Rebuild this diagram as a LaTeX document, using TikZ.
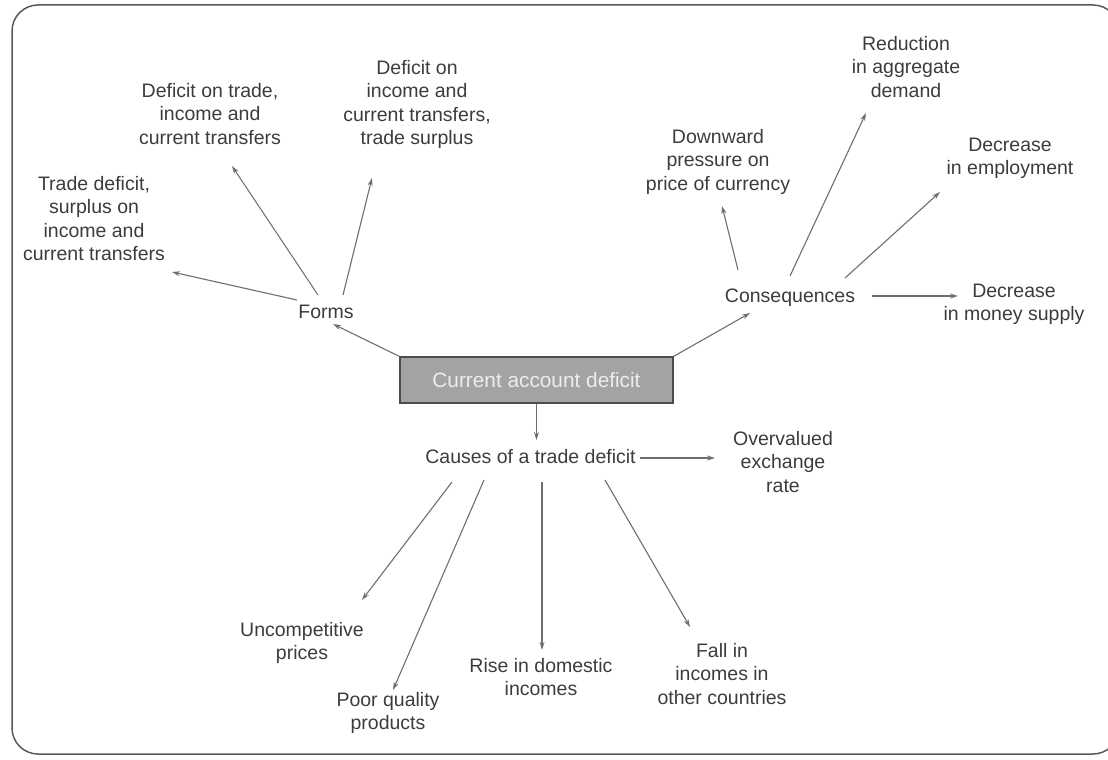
\documentclass[tikz,border=0pt]{standalone}
\usepackage{fontspec}
\setmainfont{Liberation Sans}
\usetikzlibrary{arrows.meta,calc}
\definecolor{ink}{HTML}{3C3C3C}
\definecolor{wire}{HTML}{6E6E6E}
\begin{document}
\begin{tikzpicture}[x=1pt,y=-1pt,
  lbl/.style={font=\fontsize{19.5}{23.5}\selectfont, text=ink, inner sep=0pt, outer sep=0pt, align=center},
  hub/.style={lbl, anchor=base},
  leaf/.style={lbl, anchor=north},
  core/.style={draw=black!70, line width=1.2pt, fill=black!36, minimum width=273pt, minimum height=46pt,
    inner sep=0pt, font=\fontsize{20.8}{24}\selectfont, text=white!93!black},
  link/.style={draw=wire, line width=1.1pt, -{Stealth[length=8pt,width=5pt]}}]
\useasboundingbox (0,0) rectangle (1108,760);
% outer frame
\draw[black!65, line width=1.5pt, rounded corners=26pt] (12,5) rectangle (1119,754);

% central topic
\node[core] (c) at (536.5,380) {Current account deficit};

% branch hubs
\node[hub] (forms) at (326,318) {Forms};
\node[hub] (cons) at (790,302) {Consequences};
\node[hub] (causes) at (530.5,463) {Causes of a trade deficit};

% forms
\node[leaf] (tdef) at (94,176) {Trade deficit,\\surplus on\\income and\\current transfers};
\node[leaf] (dtrade) at (210,83) {Deficit on trade,\\income and\\current transfers};
\node[leaf] (dinc) at (417,60) {Deficit on\\income and\\current transfers,\\trade surplus};

% consequences
\node[leaf] (down) at (718,129) {Downward\\pressure on\\price of currency};
\node[leaf] (red) at (906,36) {Reduction\\in aggregate\\demand};
\node[leaf] (emp) at (1010,138) {Decrease\\in employment};
\node[leaf] (money) at (1014,284) {Decrease\\in money supply};

% causes
\node[leaf] (over) at (783,431) {Overvalued\\exchange\\rate};
\node[leaf] (unc) at (302,622) {Uncompetitive\\prices};
\node[leaf] (poor) at (388,692) {Poor quality\\products};
\node[leaf] (rise) at (541,658) {Rise in domestic\\incomes};
\node[leaf] (fall) at (722,643) {Fall in\\incomes in\\other countries};

% links from the central topic
\draw[link] (c.north west) -- ($(forms.base)+(7,6)$);
\draw[link] (c.north east) -- ($(cons.base)+(-40,11)$);
\draw[link] (c.south) -- ($(causes.base)+(6,-23)$);

% forms links
\draw[link] ($(forms.base)+(-29,-18)$) -- ($(tdef.north)+(78,96)$);
\draw[link] ($(forms.base)+(-8,-23)$) -- ($(dtrade.north)+(22,83)$);
\draw[link] ($(forms.base)+(17,-23)$) -- ($(dinc.north)+(-45,118)$);

% consequence links
\draw[link] ($(cons.base)+(-52,-32)$) -- ($(down.north)+(4,77)$);
\draw[link] ($(cons.base)+(0,-26)$) -- ($(red.north)+(-40,77)$);
\draw[link] ($(cons.base)+(55,-24)$) -- ($(emp.north)+(-70,54)$);
\draw[link] ($(cons.base)+(82,-6)$) -- ($(money.north)+(-56,12)$);

% cause links
\draw[link] ($(causes.base)+(109.5,-5)$) -- ($(over.north)+(-68,27)$);
\draw[link] ($(causes.base)+(-78.5,19)$) -- ($(unc.north)+(60,-22)$);
\draw[link] ($(causes.base)+(-46.5,17)$) -- ($(poor.north)+(5,-2)$);
\draw[link] ($(causes.base)+(11.5,19)$) -- ($(rise.north)+(1,-8)$);
\draw[link] ($(causes.base)+(74.5,17)$) -- ($(fall.north)+(-32,-16)$);
\end{tikzpicture}
\end{document}
